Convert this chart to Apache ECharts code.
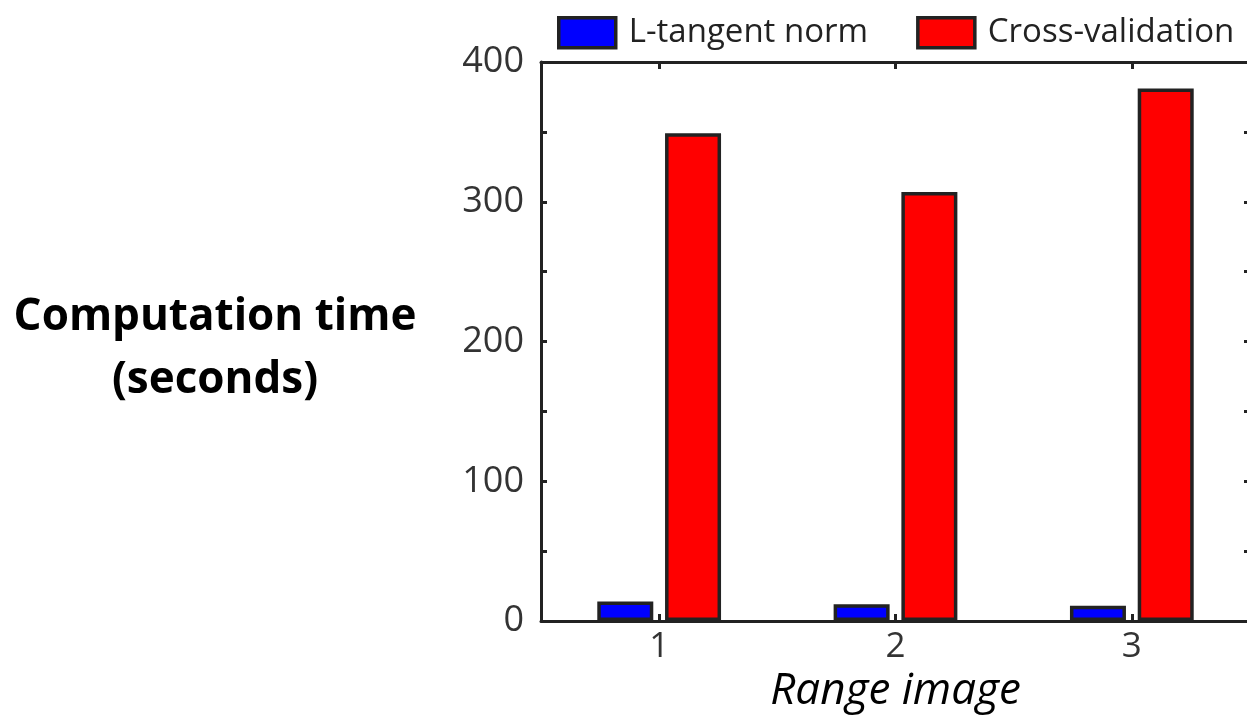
<!DOCTYPE html>
<html>
<head>
<meta charset="utf-8">
<script src="https://cdn.jsdelivr.net/npm/echarts@6/dist/echarts.min.js"></script>
<style>
html,body{margin:0;padding:0;background:#fff;}
#chart{width:1247px;height:715px;}
</style>
</head>
<body>
<div id="chart"></div>
<script>
const categories = ['1', '2', '3'];
const seriesNames = ['L-tangent norm', 'Cross-validation'];
const lTangent = [14, 12, 11];
const crossValidation = [349, 307, 381];
const yTicks = [0, 100, 200, 300, 400];

const chart = echarts.init(document.getElementById('chart'), null, {renderer: 'canvas'});
const lineColor = '#222';
const font = '"Open Sans", "DejaVu Sans", sans-serif';

chart.setOption({
  animation: false,
  backgroundColor: '#fff',
  textStyle: {fontFamily: font},
  legend: {
    data: seriesNames,
    orient: 'horizontal',
    left: 552, top: 11, width: 900,
    icon: 'rect',
    itemWidth: 57, itemHeight: 30,
    itemGap: 48,
    itemStyle: {borderColor: lineColor, borderWidth: 3.5},
    textStyle: {fontSize: 33, color: '#222', fontFamily: font, padding: [0, 0, 0, 8]}
  },
  grid: {left: 541, top: 62, width: 709, height: 559, containLabel: false, outerBoundsMode: 'none'},
  graphic: [
    {
      type: 'text', x: 215, y: 349,
      style: {
        text: 'Computation time\n(seconds)',
        fontSize: 44, fontWeight: 'bold', fontFamily: font,
        fill: '#000', align: 'center', verticalAlign: 'middle', lineHeight: 63
      }
    }
  ],
  xAxis: [
    {
      type: 'category', data: categories, position: 'bottom',
      name: 'Range image', nameLocation: 'middle', nameGap: 46,
      nameTextStyle: {fontSize: 44, fontStyle: 'italic', color: '#000', fontFamily: font},
      axisLine: {show: true, lineStyle: {color: lineColor, width: 3}},
      axisTick: {show: true, inside: true, alignWithLabel: true, length: 7, lineStyle: {color: lineColor, width: 3}},
      axisLabel: {fontSize: 35, color: '#333', margin: 9, fontFamily: font},
      splitLine: {show: false}
    },
    {
      type: 'category', data: categories, position: 'top',
      axisLine: {show: true, onZero: false, lineStyle: {color: lineColor, width: 3}},
      axisTick: {show: true, inside: true, alignWithLabel: true, length: 7, lineStyle: {color: lineColor, width: 3}},
      axisLabel: {show: false}, splitLine: {show: false}
    }
  ],
  yAxis: [
    {
      type: 'value', min: 0, max: 400, interval: 50, position: 'left',
      axisLine: {show: true, lineStyle: {color: lineColor, width: 3}},
      axisTick: {show: true, inside: true, length: 6, lineStyle: {color: lineColor, width: 3}},
      axisLabel: {
        fontSize: 36, color: '#333', margin: 17, fontFamily: font,
        formatter: function (v) { return yTicks.indexOf(v) >= 0 ? String(v) : ''; }
      },
      splitLine: {show: false}
    },
    {
      type: 'value', min: 0, max: 400, interval: 50, position: 'right',
      axisLine: {show: true, onZero: false, lineStyle: {color: lineColor, width: 3}},
      axisTick: {show: true, inside: true, length: 6, lineStyle: {color: lineColor, width: 3}},
      axisLabel: {show: false}, splitLine: {show: false}
    }
  ],
  series: [
    {
      name: seriesNames[0], type: 'bar', data: lTangent,
      barWidth: 56, barGap: '21%',
      itemStyle: {color: '#0000ff', borderColor: lineColor, borderWidth: 3.5}
    },
    {
      name: seriesNames[1], type: 'bar', data: crossValidation,
      barWidth: 56, barGap: '21%',
      itemStyle: {color: '#ff0000', borderColor: lineColor, borderWidth: 3.5}
    }
  ]
});
</script>
</body>
</html>
